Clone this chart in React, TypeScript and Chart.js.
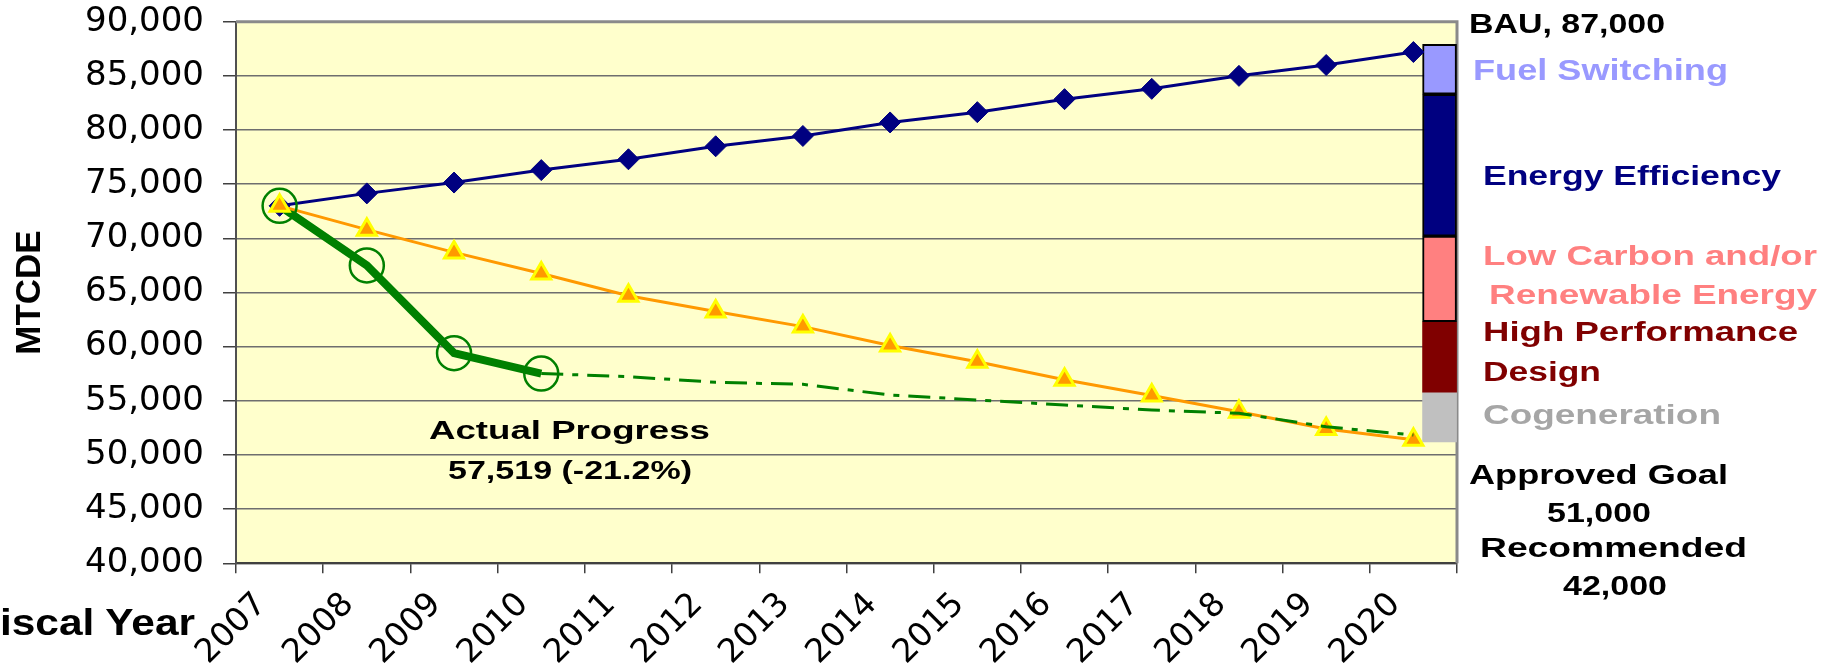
import React, { useEffect, useLayoutEffect, useRef } from 'react';
import { Chart, registerables } from 'chart.js';

Chart.register(...registerables);

// ---- data ----
const years = ['2007', '2008', '2009', '2010', '2011', '2012', '2013', '2014', '2015', '2016', '2017', '2018', '2019', '2020'];
const bauValues = [73000, 74150, 75150, 76300, 77300, 78500, 79450, 80700, 81650, 82850, 83800, 85000, 86000, 87200];
const goalValues = [73000, 70800, 68700, 66750, 64700, 63250, 61850, 60100, 58600, 56950, 55500, 54000, 52400, 51400];
const actualValues = [73000, 67500, 59400, 57519, null, null, null, null, null, null, null, null, null, null];
const projectionValues = [null, null, null, 57519, 57230, 56710, 56520, 55540, 55080, 54610, 54150, 53850, 52610, 51840];
const yMin = 40000;
const yMax = 90000;
const yStep = 5000;
// 2020 reduction wedges (floating stacked column at the end of FY2020)
const wedgeNames = ['Fuel Switching', 'Energy Efficiency', 'Low Carbon and/or Renewable Energy', 'High Performance Design', 'Cogeneration'];
const wedgeLows = [83300, 70200, 62300, 55800, 51200];
const wedgeHighs = [87900, 83300, 70200, 62300, 55800];
const wedgeYear = 2020.3;

// ---- styles ----
const wedgeFill = ['#9999FF', '#000080', '#FF8080', '#800000', '#C0C0C0'];
const wedgeBorder = [2, 2, 2, 0, 0];
const BOLD = '"Liberation Sans", Arial, sans-serif';

type Note = { text: string; x: number; base: number; w: number; size: number; color: string };
const notes: Note[] = [
  { text: 'BAU, 87,000', x: 1469, base: 34, w: 196, size: 28, color: '#000000' },
  { text: 'Fuel Switching', x: 1473, base: 81, w: 255, size: 29, color: '#9999FF' },
  { text: 'Energy Efficiency', x: 1483, base: 186, w: 298, size: 28, color: '#000080' },
  { text: 'Low Carbon and/or', x: 1483, base: 266, w: 334, size: 28, color: '#FF8080' },
  { text: 'Renewable Energy', x: 1489, base: 305, w: 328, size: 28, color: '#FF8080' },
  { text: 'High Performance', x: 1483, base: 342, w: 315, size: 28, color: '#800000' },
  { text: 'Design', x: 1483, base: 382, w: 118, size: 28, color: '#800000' },
  { text: 'Cogeneration', x: 1483, base: 425, w: 238, size: 28, color: '#A6A6A6' },
  { text: 'Approved Goal', x: 1469, base: 485, w: 259, size: 27, color: '#000000' },
  { text: '51,000', x: 1547, base: 523, w: 104, size: 27, color: '#000000' },
  { text: 'Recommended', x: 1480, base: 558, w: 267, size: 27, color: '#000000' },
  { text: '42,000', x: 1563, base: 596, w: 104, size: 27, color: '#000000' },
  { text: 'Actual Progress', x: 429, base: 439, w: 281, size: 26, color: '#000000' },
  { text: '57,519 (-21.2%)', x: 448, base: 479, w: 244, size: 26, color: '#000000' },
  { text: 'Fiscal Year', x: -26, base: 635, w: 221, size: 37, color: '#000000' },
];

function FitText({ note }: { note: Note }) {
  const ref = useRef<HTMLSpanElement>(null);
  useLayoutEffect(() => {
    const el = ref.current;
    if (!el) return;
    el.style.transform = 'none';
    const natural = el.getBoundingClientRect().width;
    if (natural > 0) el.style.transform = `scaleX(${note.w / natural})`;
  }, [note]);
  return (
    <span
      ref={ref}
      style={{
        position: 'absolute',
        left: note.x,
        top: note.base - 0.8465 * note.size,
        fontFamily: BOLD,
        fontWeight: 'bold',
        fontSize: note.size,
        lineHeight: `${note.size}px`,
        color: note.color,
        whiteSpace: 'nowrap',
        transformOrigin: '0 0',
        display: 'inline-block',
      }}
    >
      {note.text}
    </span>
  );
}

const plotFrame = {
  id: 'plotFrame',
  beforeDraw(chart: any) {
    const { ctx, chartArea: a } = chart;
    ctx.save();
    ctx.fillStyle = '#FFFFCC';
    ctx.fillRect(a.left, a.top, a.right - a.left, a.bottom - a.top);
    ctx.restore();
  },
  beforeDatasetsDraw(chart: any) {
    const { ctx, chartArea: a } = chart;
    ctx.save();
    ctx.strokeStyle = '#8A8A8A';
    ctx.lineWidth = 3;
    ctx.beginPath();
    ctx.moveTo(a.left, a.top);
    ctx.lineTo(a.right, a.top);
    ctx.lineTo(a.right, a.bottom);
    ctx.stroke();
    ctx.restore();
  },
};

export default function App() {
  const canvasRef = useRef<HTMLCanvasElement>(null);

  useEffect(() => {
    const canvas = canvasRef.current;
    if (!canvas) return;

    const wedgeSets = wedgeNames.map((name, i) => ({
      type: 'bar' as const,
      label: name,
      xAxisID: 'xb',
      yAxisID: 'y',
      data: [{ x: wedgeYear, y: [wedgeLows[i], wedgeHighs[i]] }],
      backgroundColor: wedgeFill[i],
      borderColor: '#000000',
      borderWidth: wedgeBorder[i],
      borderSkipped: false,
      barThickness: 34,
      grouped: false,
      order: 10 + i,
    }));

    const chart = new Chart(canvas, {
      type: 'line',
      data: {
        labels: years,
        datasets: [
          {
            label: 'Actual markers',
            data: actualValues,
            xAxisID: 'x',
            showLine: false,
            pointStyle: 'circle',
            pointRadius: 17,
            pointBackgroundColor: 'rgba(0,0,0,0)',
            pointBorderColor: '#008000',
            pointBorderWidth: 2.5,
            borderColor: '#008000',
            order: 0,
          },
          {
            label: 'Goal',
            data: goalValues,
            xAxisID: 'x',
            borderColor: '#FF9900',
            borderWidth: 3,
            pointStyle: 'triangle',
            pointRadius: 11,
            pointBackgroundColor: '#FF9900',
            pointBorderColor: '#FFFF00',
            pointBorderWidth: 3,
            tension: 0,
            order: 2,
          },
          {
            label: 'Actual Progress',
            data: actualValues,
            xAxisID: 'x',
            borderColor: '#008000',
            borderWidth: 8,
            pointRadius: 0,
            tension: 0,
            order: 3,
          },
          {
            label: 'Projection',
            data: projectionValues,
            xAxisID: 'x',
            borderColor: '#008000',
            borderWidth: 3,
            borderDash: [22, 9, 6, 9],
            pointRadius: 0,
            tension: 0,
            order: 1,
          },
          {
            label: 'BAU',
            data: bauValues,
            xAxisID: 'x',
            borderColor: '#000080',
            borderWidth: 3,
            pointStyle: 'rectRot',
            pointRadius: 10.5,
            pointBackgroundColor: '#000080',
            pointBorderColor: '#000080',
            pointBorderWidth: 1,
            tension: 0,
            order: 4,
          },
          ...wedgeSets,
        ] as any,
      },
      options: {
        animation: false,
        responsive: false,
        events: [],
        layout: { padding: { left: 0, top: 21.7, right: 372, bottom: 0 } },
        plugins: { legend: { display: false }, tooltip: { enabled: false }, title: { display: false } },
        scales: {
          x: {
            type: 'category',
            offset: true,
            grid: { offset: true, drawOnChartArea: false, drawTicks: true, tickLength: 10, tickColor: '#404040', lineWidth: 1.5 },
            border: { display: true, color: '#404040', width: 2 },
            ticks: {
              autoSkip: false,
              maxRotation: 45,
              minRotation: 45,
              labelOffset: -18,
              padding: 12,
              color: '#000000',
              font: { family: 'DejaVu Sans', size: 33 },
            },
            afterFit: (s: any) => { s.height = 106.7; },
          },
          xb: {
            type: 'linear',
            display: false,
            min: 2006.5,
            max: 2020.5,
            offset: false,
          },
          y: {
            type: 'linear',
            min: yMin,
            max: yMax,
            ticks: {
              stepSize: yStep,
              padding: 19,
              color: '#000000',
              font: { family: 'DejaVu Sans', size: 34 },
              callback: (v: any) => Number(v).toLocaleString('en-US'),
            },
            grid: { color: '#6E6E6E', lineWidth: 1.5, tickLength: 13, tickColor: '#404040', drawTicks: true },
            border: { display: true, color: '#505050', width: 2 },
            title: {
              display: true,
              text: 'MTCDE',
              color: '#000000',
              font: { family: 'Liberation Sans', weight: 'bold', size: 35, lineHeight: 1 },
              padding: { top: 13, bottom: 0 },
            },
            afterFit: (s: any) => {
              s.width = 236;
              s.paddingTop = 0;
              s.paddingBottom = 0;
            },
          },
        },
      } as any,
      plugins: [plotFrame],
    });

    return () => chart.destroy();
  }, []);

  return (
    <div style={{ position: 'absolute', left: 0, top: 0, width: 1829, height: 670, overflow: 'hidden', background: '#FFFFFF' }}>
      <canvas ref={canvasRef} width={1829} height={670} style={{ position: 'absolute', left: 0, top: 0, width: 1829, height: 670 }} />
      {notes.map((n) => (
        <FitText key={n.text} note={n} />
      ))}
    </div>
  );
}
